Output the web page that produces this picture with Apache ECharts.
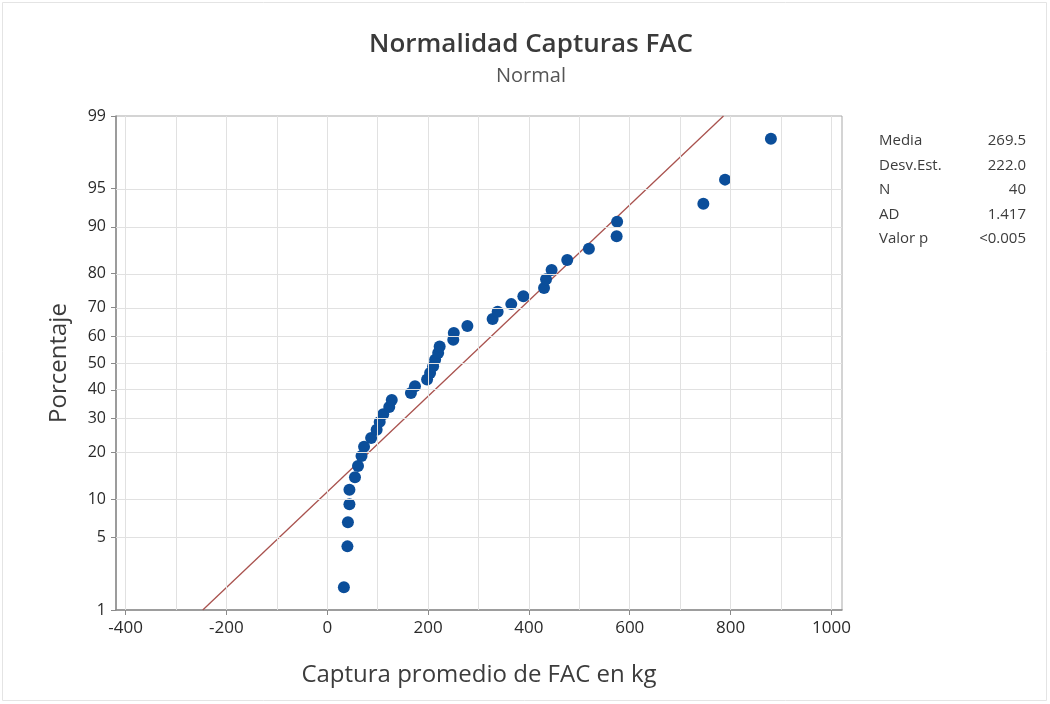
<!DOCTYPE html>
<html><head><meta charset="utf-8">
<script src="https://cdn.jsdelivr.net/npm/echarts@6/dist/echarts.min.js"></script>
<style>html,body{margin:0;padding:0;background:#fff}#c{width:1050px;height:704px}</style>
</head><body><div id="c"></div>
<script>
// Data (sorted values, with their plotted percentage)
const captura = [33,40,41,44,44,55,61,68,73,87,98,104,111,123,128,166,174,198,204,210,214,220,223,250,251,278,328,338,365,389,430,434,445,476,519,574,575,746,789,880];
const porcentaje = [1.733,4.208,6.683,9.158,11.634,14.109,16.584,19.059,21.535,24.010,26.485,28.960,31.436,33.911,36.386,38.861,41.337,43.812,46.287,48.762,51.238,53.713,56.188,58.663,61.139,63.614,66.089,68.564,71.040,73.515,75.990,78.465,80.941,83.416,85.891,88.366,90.842,93.317,95.792,98.267];
const yTickPct = [1,5,10,20,30,40,50,60,70,80,90,95,99];
const xTickLabels = [-400,-200,0,200,400,600,800,1000];
const xGridValues = [-400,-300,-200,-100,0,100,200,300,400,500,600,700,800,900,1000];
const statLabels = ['Media','Desv.Est.','N','AD','Valor p'];
const statValues = ['269.5','222.0','40','1.417','<0.005'];
const fitMean = 269.5;
const fitSd = 222.0;
const xRange = [-419, 1021];
const yRangePct = [1, 99];

// inverse standard normal CDF (probability-paper scale)
function probit(p){
  const a=[-3.969683028665376e+01,2.209460984245205e+02,-2.759285104469687e+02,1.383577518672690e+02,-3.066479806614716e+01,2.506628277459239e+00];
  const b=[-5.447609879822406e+01,1.615858368580409e+02,-1.556989798598866e+02,6.680131188771972e+01,-1.328068155288572e+01];
  const c=[-7.784894002430293e-03,-3.223964580411365e-01,-2.400758277161838e+00,-2.549732539343734e+00,4.374664141464968e+00,2.938163982698783e+00];
  const d=[7.784695709041462e-03,3.224671290700398e-01,2.445134137142996e+00,3.754408661907416e+00];
  const pl=0.02425, ph=1-pl; let q,r;
  if(p<pl){q=Math.sqrt(-2*Math.log(p));return (((((c[0]*q+c[1])*q+c[2])*q+c[3])*q+c[4])*q+c[5])/((((d[0]*q+d[1])*q+d[2])*q+d[3])*q+1);}
  if(p<=ph){q=p-0.5;r=q*q;return (((((a[0]*r+a[1])*r+a[2])*r+a[3])*r+a[4])*r+a[5])*q/(((((b[0]*r+b[1])*r+b[2])*r+b[3])*r+b[4])*r+1);}
  q=Math.sqrt(-2*Math.log(1-p));return -(((((c[0]*q+c[1])*q+c[2])*q+c[3])*q+c[4])*q+c[5])/((((d[0]*q+d[1])*q+d[2])*q+d[3])*q+1);
}
const z = p => probit(p/100);
const yMin = z(yRangePct[0]), yMax = z(yRangePct[1]);
const yTickZ = yTickPct.map(z);

const FONT = '"Open Sans", "Noto Sans", sans-serif';
const chart = echarts.init(document.getElementById('c'), null, {renderer:'canvas'});

const statGraphics = [];
statLabels.forEach((s,i)=>{
  const y = 141 + i*24.5;
  statGraphics.push({type:'text', x:879, y:y, style:{text:s, fill:'#3c3c3c', font:'15px '+FONT, textAlign:'left', textVerticalAlign:'middle'}});
  statGraphics.push({type:'text', x:1026, y:y, style:{text:statValues[i], fill:'#3c3c3c', font:'15px '+FONT, textAlign:'right', textVerticalAlign:'middle'}});
});

chart.setOption({
  animation:false,
  backgroundColor:'#fff',
  grid:{left:116, top:116, right:208, bottom:94, show:true, borderColor:'#a9a9a9', borderWidth:1, backgroundColor:'transparent'},
  xAxis:{
    type:'value', min:xRange[0], max:xRange[1],
    name:'Captura promedio de FAC en kg', nameLocation:'middle', nameGap:53,
    nameTextStyle:{fontFamily:FONT, fontSize:24, color:'#3c3c3c'},
    axisLine:{show:true, onZero:false, lineStyle:{color:'#8a8a8a', width:1.5}},
    axisTick:{show:true, length:5, customValues:xTickLabels, lineStyle:{color:'#8a8a8a'}},
    axisLabel:{customValues:xTickLabels, fontFamily:FONT, fontSize:17, color:'#2a2a2a', margin:10,
      formatter:function(v){ return String(Math.round(v)); }},
    splitLine:{show:false}
  },
  yAxis:{
    type:'value', min:yMin, max:yMax,
    name:'Porcentaje', nameLocation:'middle', nameGap:45,
    nameTextStyle:{fontFamily:FONT, fontSize:24, color:'#3c3c3c'},
    axisLine:{show:true, onZero:false, lineStyle:{color:'#8a8a8a', width:1.5}},
    axisTick:{show:true, length:5, customValues:yTickZ, lineStyle:{color:'#8a8a8a'}},
    axisLabel:{customValues:yTickZ, fontFamily:FONT, fontSize:16, color:'#2a2a2a', margin:10,
      formatter:function(v){ let bi=0,bd=1e9; yTickZ.forEach((t,i)=>{const dd=Math.abs(t-v); if(dd<bd){bd=dd;bi=i;}}); return String(yTickPct[bi]); }},
    splitLine:{show:false}
  },
  graphic:[
    {type:'rect', shape:{x:2.5,y:2.5,width:1044,height:698}, style:{fill:'none', stroke:'#e4e4e4', lineWidth:1}, silent:true, z:-10},
    {type:'text', x:531, y:45, style:{text:'Normalidad Capturas FAC', fill:'#3a3a3a', font:'600 26px '+FONT, textAlign:'center', textVerticalAlign:'middle'}},
    {type:'text', x:531, y:76, style:{text:'Normal', fill:'#555', font:'20px '+FONT, textAlign:'center', textVerticalAlign:'middle'}},
    ...statGraphics
  ],
  series:[
    {type:'line', data:[], z:1, silent:true, symbol:'none',
     markLine:{silent:true, symbol:'none', animation:false, label:{show:false},
       lineStyle:{color:'#e1e1e1', width:1, type:'solid'},
       emphasis:{disabled:true},
       data:[...xGridValues.map(v=>({xAxis:v})), ...yTickZ.map(v=>({yAxis:v}))]}},
    {type:'line', z:2, silent:true, symbol:'none',
     data:[[fitMean+fitSd*yMin, yMin],[fitMean+fitSd*yMax, yMax]],
     lineStyle:{color:'#a9524e', width:1.3}},
    {type:'scatter', z:3, symbol:'circle', symbolSize:12,
     itemStyle:{color:'#0b4e9a', opacity:1},
     data:captura.map((x,i)=>[x, z(porcentaje[i])])}
  ]
});
</script></body></html>
